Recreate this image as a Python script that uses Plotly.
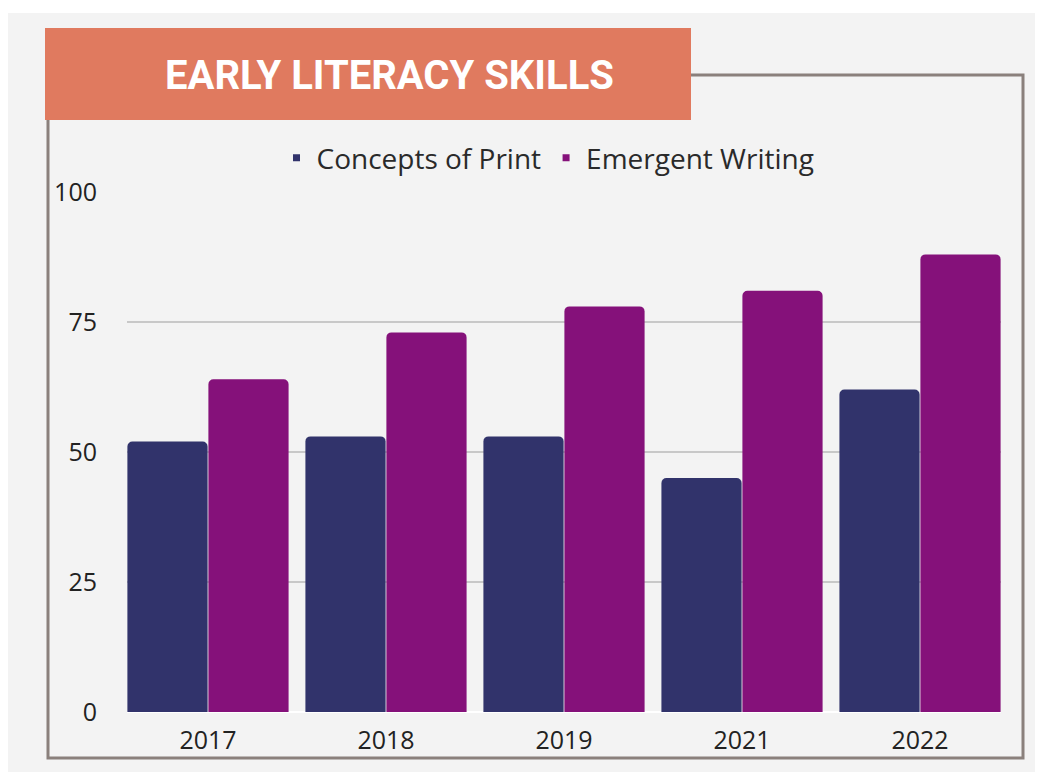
import plotly.graph_objects as go

years = ["2017", "2018", "2019", "2021", "2022"]
concepts_of_print = [52, 53, 53, 45, 62]
emergent_writing = [64, 73, 78, 81, 88]
series_names = ["Concepts of Print", "Emergent Writing"]
colors = ["#31336b", "#85117a"]
title_text = "EARLY LITERACY SKILLS"
y_ticks = [0, 25, 50, 75, 100]

OFF = 8  # page body margin
W, H = 1043 - OFF, 780 - OFF
L, R, T, B = 127 - OFF, 1001 - OFF, 192 - OFF, 712 - OFF
bargap = 0.09

def px(x):
    return (x - OFF - L) / (R - L)

def py(y):
    return (B - (y - OFF)) / (B - T)

fig = go.Figure()
for name, vals, c in zip(series_names, [concepts_of_print, emergent_writing], colors):
    fig.add_trace(go.Bar(x=years, y=vals, name=name, marker=dict(color=c, line=dict(width=0)),
                         showlegend=False))
for name, c in zip(series_names, colors):
    fig.add_trace(go.Scatter(x=[None], y=[None], mode="markers", name=name,
                             marker=dict(symbol="square", size=7, color=c)))

shapes = [
    dict(type="rect", xref="paper", yref="paper", x0=px(8), x1=px(1043), y0=py(772), y1=py(13),
         fillcolor="#f3f3f3", line=dict(width=0), layer="below"),
    dict(type="rect", xref="paper", yref="paper", x0=px(48), x1=px(1023), y0=py(758), y1=py(75),
         fillcolor="rgba(0,0,0,0)", line=dict(color="#8a807c", width=3), layer="below"),
    dict(type="rect", xref="paper", yref="paper", x0=px(45), x1=px(691), y0=py(120), y1=py(28),
         fillcolor="#e07a5f", line=dict(width=0), layer="above"),
]

fig.update_layout(
    width=W, height=H,
    margin=dict(l=L, r=W - R, t=T, b=H - B, autoexpand=False),
    paper_bgcolor="white", plot_bgcolor="rgba(0,0,0,0)",
    barmode="group", bargap=bargap, bargroupgap=0.01, barcornerradius=5,
    font=dict(family="'Open Sans', Lato, sans-serif", color="#222222"),
    shapes=shapes,
    showlegend=True,
    legend=dict(orientation="h", x=px(548), xanchor="center", y=py(158), yanchor="middle",
                font=dict(size=28, color="#2a2a2a"), itemwidth=30, bgcolor="rgba(0,0,0,0)",
                tracegroupgap=0),
    annotations=[dict(text=title_text, xref="paper", yref="paper", x=px(389), y=py(76),
                      xanchor="center", yanchor="middle", showarrow=False,
                      font=dict(family="Roboto, 'Liberation Sans', sans-serif",
                                size=40, color="white", weight="bold"))],
    xaxis=dict(type="category", range=[-0.5 + bargap / 2, 4.5 - bargap / 2], showgrid=False,
               showline=False, zeroline=False, ticks="outside", ticklen=6, tickcolor="rgba(0,0,0,0)",
               tickfont=dict(size=25, color="#222222")),
    yaxis=dict(range=[0, 100], tickvals=y_ticks, showgrid=True, gridcolor="#c8c8c8", gridwidth=1.5,
               zeroline=True, zerolinecolor="white", zerolinewidth=2, showline=False,
               ticks="outside", ticklen=24, tickcolor="rgba(0,0,0,0)",
               tickfont=dict(size=25, color="#222222")),
)

fig.write_html("out.html")
